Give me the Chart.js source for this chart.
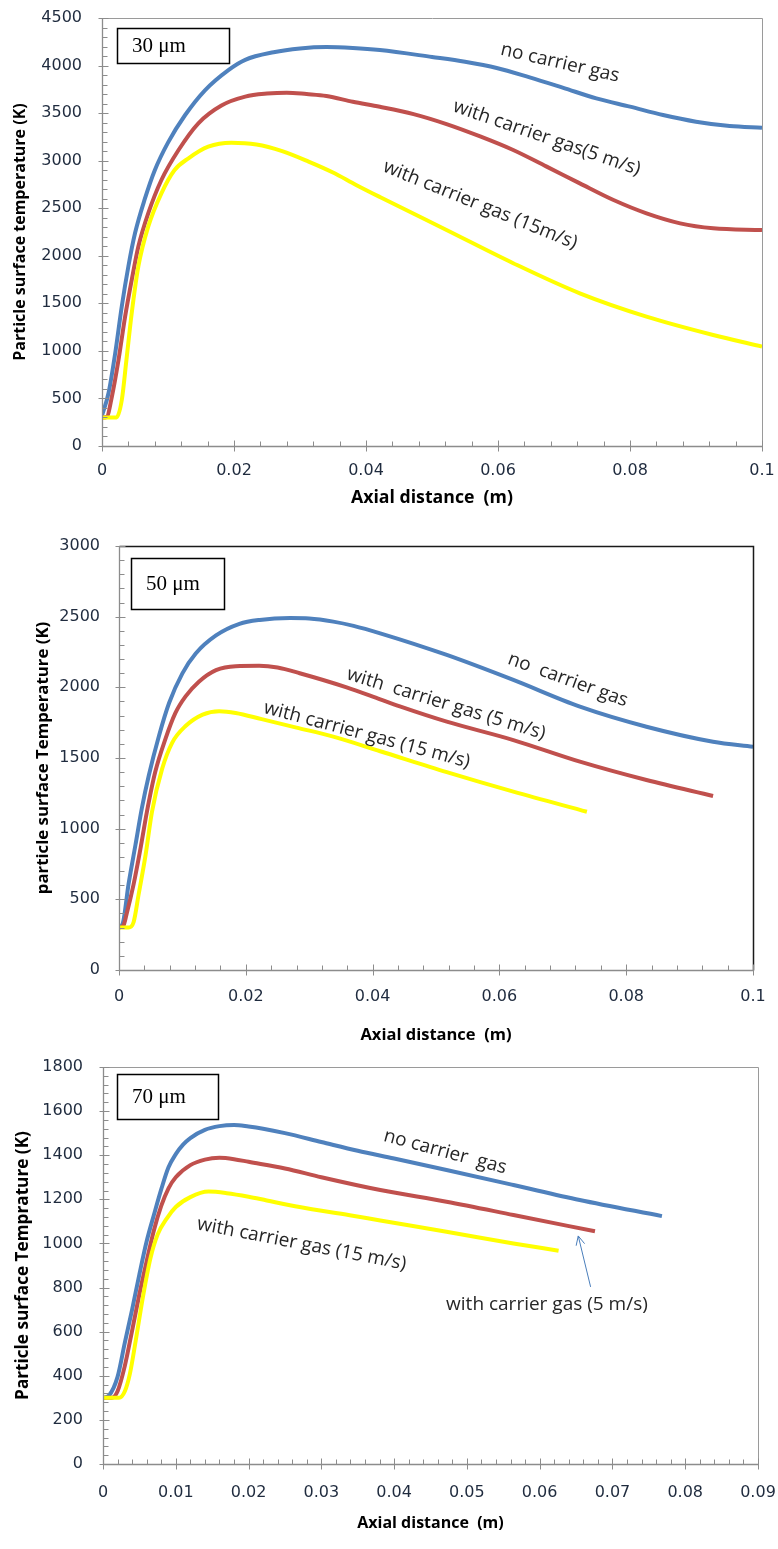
<!DOCTYPE html>
<html><head><meta charset="utf-8">
<script src="https://cdn.jsdelivr.net/npm/chart.js@4"></script>
<style>
html,body{margin:0;padding:0;background:#fff;}
#wrap{position:relative;width:778px;height:1549px;overflow:hidden;}
canvas{position:absolute;left:0;}
</style></head><body>
<div id="wrap">
<canvas id="c1" style="top:0px" width="778" height="518"></canvas>
<canvas id="c2" style="top:518px" width="778" height="532"></canvas>
<canvas id="c3" style="top:1050px" width="778" height="499"></canvas>
</div>
<script>
// ---------- Chart 1: 30 µm ----------
const x30_noGas = [0, 0.001, 0.002, 0.003, 0.004, 0.005, 0.0065, 0.008, 0.010, 0.0126, 0.0156, 0.0191, 0.0217, 0.026, 0.030, 0.034, 0.038, 0.0421, 0.050, 0.055, 0.0598, 0.0648, 0.0699, 0.0749, 0.080, 0.085, 0.090, 0.0951, 0.1];
const T30_noGas = [320, 560, 975, 1470, 1890, 2236, 2600, 2900, 3190, 3480, 3740, 3950, 4060, 4140, 4180, 4195, 4185, 4163, 4090, 4040, 3975, 3875, 3765, 3655, 3568, 3480, 3410, 3364, 3347];
const x30_gas5 = [0, 0.0007, 0.0015, 0.0025, 0.0035, 0.0045, 0.0055, 0.007, 0.009, 0.0116, 0.0146, 0.0181, 0.0217, 0.025, 0.028, 0.031, 0.034, 0.038, 0.0421, 0.0472, 0.0522, 0.0573, 0.0623, 0.0673, 0.0724, 0.0775, 0.0825, 0.0876, 0.0926, 0.1];
const T30_gas5 = [300, 305, 520, 904, 1360, 1745, 2095, 2446, 2797, 3112, 3393, 3580, 3673, 3705, 3715, 3700, 3680, 3620, 3567, 3490, 3385, 3255, 3112, 2940, 2761, 2586, 2446, 2341, 2289, 2271];
const x30_gas15 = [0, 0.0022, 0.003, 0.0037, 0.0045, 0.0055, 0.007, 0.009, 0.011, 0.0131, 0.0161, 0.0196, 0.0234, 0.0273, 0.0313, 0.035, 0.0385, 0.0421, 0.0522, 0.0623, 0.0724, 0.0825, 0.0926, 0.1];
const T30_gas15 = [300, 300, 484, 904, 1395, 1885, 2306, 2657, 2902, 3025, 3147, 3189, 3170, 3100, 2990, 2875, 2745, 2618, 2271, 1922, 1605, 1360, 1167, 1045];
const xTicks30 = ['0', '0.02', '0.04', '0.06', '0.08', '0.1'];
const yTicks30 = ['0', '500', '1000', '1500', '2000', '2500', '3000', '3500', '4000', '4500'];

// ---------- Chart 2: 50 µm ----------
const x50_noGas = [0, 0.0006, 0.0015, 0.0026, 0.0036, 0.0047, 0.0063, 0.0079, 0.010, 0.0121, 0.0153, 0.019, 0.0222, 0.027, 0.030, 0.0338, 0.037, 0.0412, 0.0517, 0.0622, 0.0727, 0.0832, 0.0937, 0.1];
const T50_noGas = [300, 330, 606, 886, 1143, 1376, 1656, 1889, 2099, 2239, 2367, 2449, 2477, 2490, 2487, 2465, 2435, 2382, 2229, 2052, 1863, 1721, 1615, 1580];
const x50_gas5 = [0, 0.0007, 0.0012, 0.0023, 0.0034, 0.0044, 0.0057, 0.0073, 0.0089, 0.0105, 0.0126, 0.0153, 0.0184, 0.0221, 0.025, 0.0285, 0.0359, 0.0412, 0.0443, 0.0517, 0.0622, 0.0727, 0.0832, 0.0937];
const T50_gas5 = [300, 315, 396, 606, 863, 1119, 1399, 1632, 1819, 1936, 2040, 2122, 2150, 2152, 2140, 2100, 2000, 1915, 1865, 1757, 1627, 1474, 1344, 1231];
const x50_gas15 = [0, 0.0015, 0.0023, 0.0031, 0.0042, 0.0052, 0.0068, 0.0084, 0.0105, 0.0132, 0.0158, 0.0184, 0.0225, 0.028, 0.0338, 0.0412, 0.0517, 0.0622, 0.0738];
const T50_gas15 = [300, 300, 338, 536, 816, 1119, 1423, 1609, 1726, 1807, 1831, 1819, 1775, 1715, 1651, 1548, 1400, 1262, 1120];
const xTicks50 = ['0', '0.02', '0.04', '0.06', '0.08', '0.1'];
const yTicks50 = ['0', '500', '1000', '1500', '2000', '2500', '3000'];

// ---------- Chart 3: 70 µm ----------
const x70_noGas = [0, 0.0008, 0.002, 0.003, 0.004, 0.005, 0.006, 0.007, 0.008, 0.009, 0.010, 0.011, 0.012, 0.014, 0.016, 0.018, 0.020, 0.022, 0.025, 0.030, 0.035, 0.040, 0.0472, 0.0564, 0.0655, 0.0768];
const T70_noGas = [300, 310, 395, 550, 700, 860, 1010, 1130, 1245, 1345, 1405, 1448, 1478, 1515, 1532, 1537, 1530, 1520, 1500, 1460, 1420, 1385, 1333, 1265, 1197, 1124];
const x70_gas5 = [0, 0.0012, 0.002, 0.003, 0.004, 0.005, 0.006, 0.007, 0.008, 0.009, 0.010, 0.012, 0.014, 0.016, 0.018, 0.020, 0.025, 0.030, 0.0381, 0.0472, 0.0564, 0.0676];
const T70_gas5 = [300, 300, 330, 445, 605, 770, 920, 1060, 1170, 1250, 1300, 1355, 1380, 1388, 1382, 1370, 1340, 1300, 1242, 1189, 1129, 1055];
const x70_gas15 = [0, 0.0022, 0.003, 0.0037, 0.0045, 0.0055, 0.0065, 0.0075, 0.0088, 0.010, 0.012, 0.0145, 0.017, 0.020, 0.0225, 0.027, 0.0339, 0.0381, 0.0472, 0.0564, 0.0626];
const T70_gas15 = [300, 300, 330, 410, 560, 760, 930, 1040, 1115, 1165, 1210, 1235, 1228, 1212, 1195, 1165, 1128, 1104, 1053, 1000, 967];
const xTicks70 = ['0', '0.01', '0.02', '0.03', '0.04', '0.05', '0.06', '0.07', '0.08', '0.09'];
const yTicks70 = ['0', '200', '400', '600', '800', '1000', '1200', '1400', '1600', '1800'];

// series colours / names
const seriesNames = ['no carrier gas', 'with carrier gas (5 m/s)', 'with carrier gas (15 m/s)'];
const seriesColors = ['#4f81bd', '#c0504d', '#ffff00'];

function pts(xs, ys) { return xs.map((x, i) => ({x: x, y: ys[i]})); }

function decoPlugin(o) {
  return {
    id: 'deco',
    afterDraw(chart) {
      const ctx = chart.ctx, xs = chart.scales.x, ys = chart.scales.y, a = chart.chartArea;
      ctx.save();
      const L = Math.round(a.left) + 0.5, R = Math.round(a.right) + 0.5, Tp = Math.round(a.top) + 0.5, B = Math.round(a.bottom) + 0.5;
      // frame
      ctx.strokeStyle = o.frameColor;
      ctx.lineWidth = o.frameWidth;
      ctx.beginPath(); ctx.moveTo(L, Tp); ctx.lineTo(R, Tp); ctx.lineTo(R, B); ctx.stroke();
      ctx.lineWidth = 1.3;
      ctx.strokeStyle = o.axisColor;
      ctx.beginPath(); ctx.moveTo(L, Tp); ctx.lineTo(L, B); ctx.lineTo(R, B); ctx.stroke();
      // ticks
      ctx.lineWidth = 1;
      ctx.beginPath();
      const nx = Math.round((xs.max - xs.min) / o.xMinor);
      for (let i = 0; i <= nx; i++) {
        const p = Math.round(xs.getPixelForValue(xs.min + i * o.xMinor)) + 0.5;
        const major = i % o.xPer === 0;
        ctx.moveTo(p, B - (major ? 6 : 5)); ctx.lineTo(p, B + (major ? 5 : 0));
      }
      const ny = Math.round((ys.max - ys.min) / o.yMinor);
      for (let i = 0; i <= ny; i++) {
        const p = Math.round(ys.getPixelForValue(ys.min + i * o.yMinor)) + 0.5;
        const major = i % o.yPer === 0;
        ctx.moveTo(L - (major ? 4 : 0), p); ctx.lineTo(L + (major ? 6 : 5), p);
      }
      ctx.stroke();
      // size box
      const b = o.box;
      const bx0 = xs.getPixelForValue(b.x0), bx1 = xs.getPixelForValue(b.x1);
      const by0 = ys.getPixelForValue(b.y0), by1 = ys.getPixelForValue(b.y1);
      ctx.fillStyle = '#fff';
      ctx.fillRect(bx0, by0, bx1 - bx0, by1 - by0);
      ctx.strokeStyle = '#000'; ctx.lineWidth = 1.5;
      ctx.strokeRect(Math.round(bx0) + 0.5, Math.round(by0) + 0.5, Math.round(bx1 - bx0), Math.round(by1 - by0));
      ctx.fillStyle = '#000';
      ctx.font = '21px "Liberation Serif"';
      ctx.textAlign = 'left'; ctx.textBaseline = 'middle';
      ctx.fillText(b.text, bx0 + 15, (by0 + by1) / 2 + 1);
      // curve labels
      ctx.fillStyle = '#262626';
      ctx.textAlign = 'center'; ctx.textBaseline = 'middle';
      o.labels.forEach(l => {
        const px = xs.getPixelForValue(l.x), py = ys.getPixelForValue(l.y);
        ctx.save();
        ctx.translate(px, py);
        ctx.rotate(l.angle * Math.PI / 180);
        ctx.font = l.size + 'px "Open Sans"';
        ctx.fillText(l.text, 0, 0);
        ctx.restore();
      });
      // arrow
      if (o.arrow) {
        const ar = o.arrow;
        const x0 = xs.getPixelForValue(ar.x0), y0 = ys.getPixelForValue(ar.y0);
        const x1 = xs.getPixelForValue(ar.x1), y1 = ys.getPixelForValue(ar.y1);
        ctx.strokeStyle = '#4a7ebb'; ctx.lineWidth = 1;
        ctx.beginPath(); ctx.moveTo(x0, y0); ctx.lineTo(x1, y1); ctx.stroke();
        const ang = Math.atan2(y1 - y0, x1 - x0), hl = 10, ha = 0.45;
        ctx.beginPath();
        ctx.moveTo(x1 - hl * Math.cos(ang - ha), y1 - hl * Math.sin(ang - ha));
        ctx.lineTo(x1, y1);
        ctx.lineTo(x1 - hl * Math.cos(ang + ha), y1 - hl * Math.sin(ang + ha));
        ctx.stroke();
      }
      ctx.restore();
    }
  };
}

function makeChart(id, s) {
  const datasets = s.series.map((sr, i) => ({
    label: seriesNames[i],
    data: pts(sr[0], sr[1]),
    borderColor: seriesColors[i],
    backgroundColor: seriesColors[i],
    borderWidth: 4,
    pointRadius: 0,
    fill: false,
    cubicInterpolationMode: 'monotone',
    order: 2 - i
  }));
  new Chart(document.getElementById(id), {
    type: 'line',
    data: {datasets: datasets},
    options: {
      responsive: false,
      animation: false,
      events: [],
      layout: {padding: s.padding},
      plugins: {legend: {display: false}, tooltip: {enabled: false}},
      scales: {
        x: {
          type: 'linear', min: 0, max: s.xMax,
          grid: {display: false, drawTicks: false},
          border: {display: false},
          ticks: {stepSize: s.xStep, padding: s.xPad, color: '#1f2b3e', font: {family: 'DejaVu Sans', size: 16},
                  maxRotation: 0, autoSkip: false, callback: (v, i) => s.xLabels[i]},
          title: {display: true, text: 'Axial distance  (m)', color: '#000',
                  font: {family: 'Open Sans', weight: 'bold', size: s.xTitleSize}, padding: {top: 0, bottom: s.xTitlePad}},
          afterFit: (sc) => { sc.height = s.xH; sc.paddingLeft = 0; sc.paddingRight = 0; }
        },
        y: {
          type: 'linear', min: 0, max: s.yMax,
          grid: {display: false, drawTicks: false},
          border: {display: false},
          ticks: {stepSize: s.yStep, padding: s.yPad, color: '#1f2b3e', font: {family: 'DejaVu Sans', size: 16},
                  autoSkip: false, callback: (v, i) => s.yLabels[i]},
          title: {display: true, text: s.yTitle, color: '#000',
                  font: {family: 'Open Sans', weight: 'bold', size: s.yTitleSize}, padding: {top: s.yTitlePad, bottom: 0}},
          afterFit: (sc) => { sc.width = s.yW; sc.paddingTop = 0; sc.paddingBottom = 0; }
        }
      }
    },
    plugins: [decoPlugin(s.deco)]
  });
}

makeChart('c1', {
  series: [[x30_noGas, T30_noGas], [x30_gas5, T30_gas5], [x30_gas15, T30_gas15]],
  padding: {top: 18, right: 16, bottom: 0, left: 0},
  xMax: 0.1, xStep: 0.02, xLabels: xTicks30, xPad: 15, xH: 72, xTitleSize: 17.7, xTitlePad: 9,
  yMax: 4500, yStep: 500, yLabels: yTicks30, yPad: 20, yW: 102,
  yTitle: 'Particle surface temperature (K)', yTitleSize: 16, yTitlePad: 11,
  deco: {
    axisColor: '#8c8c8c', frameColor: '#9a9a9a', frameWidth: 1,
    xMinor: 0.004, xPer: 5, yMinor: 100, yPer: 5,
    box: {x0: 0.00227, x1: 0.01924, y0: 4395, y1: 4027, text: '30 μm'},
    labels: [
      {text: 'no carrier gas', x: 0.0694, y: 4027, angle: 13, size: 19},
      {text: 'with carrier gas(5 m/s)', x: 0.0674, y: 3238, angle: 19, size: 19},
      {text: 'with carrier gas (15m/s)', x: 0.0573, y: 2534, angle: 22, size: 19}
    ]
  }
});

makeChart('c2', {
  series: [[x50_noGas, T50_noGas], [x50_gas5, T50_gas5], [x50_gas15, T50_gas15]],
  padding: {top: 28, right: 25, bottom: 0, left: 0},
  xMax: 0.1, xStep: 0.02, xLabels: xTicks50, xPad: 17, xH: 80, xTitleSize: 16.5, xTitlePad: 5,
  yMax: 3000, yStep: 500, yLabels: yTicks50, yPad: 19, yW: 119,
  yTitle: 'particle surface Temperature (K)', yTitleSize: 16.8, yTitlePad: 33,
  deco: {
    axisColor: '#8c8c8c', frameColor: '#1a1a1a', frameWidth: 1.5,
    xMinor: 0.004, xPer: 5, yMinor: 100, yPer: 5,
    box: {x0: 0.00189, x1: 0.01656, y0: 2915, y1: 2554, text: '50 μm'},
    labels: [
      {text: 'no  carrier gas', x: 0.0708, y: 2052, angle: 20, size: 19},
      {text: 'with  carrier gas (5 m/s)', x: 0.0516, y: 1882, angle: 17, size: 19},
      {text: 'with carrier gas (15 m/s)', x: 0.0391, y: 1663, angle: 15, size: 19}
    ]
  }
});

makeChart('c3', {
  series: [[x70_noGas, T70_noGas], [x70_gas5, T70_gas5], [x70_gas15, T70_gas15]],
  padding: {top: 17, right: 20, bottom: 0, left: 0},
  xMax: 0.09, xStep: 0.01, xLabels: xTicks70, xPad: 19, xH: 85, xTitleSize: 16, xTitlePad: 16,
  yMax: 1800, yStep: 200, yLabels: yTicks70, yPad: 20, yW: 103,
  yTitle: 'Particle surface Temprature (K)', yTitleSize: 17.2, yTitlePad: 13,
  deco: {
    axisColor: '#8c8c8c', frameColor: '#9a9a9a', frameWidth: 1,
    xMinor: 0.002, xPer: 5, yMinor: 40, yPer: 5,
    box: {x0: 0.00192, x1: 0.0158, y0: 1768, y1: 1564, text: '70 μm'},
    labels: [
      {text: 'no carrier  gas', x: 0.0470, y: 1415, angle: 15, size: 19},
      {text: 'with carrier gas (15 m/s)', x: 0.0273, y: 997, angle: 11, size: 19},
      {text: 'with carrier gas (5 m/s)', x: 0.0610, y: 721, angle: 0, size: 19}
    ],
    arrow: {x0: 0.0670, y0: 803, x1: 0.0653, y1: 1034}
  }
});
</script>
</body></html>
